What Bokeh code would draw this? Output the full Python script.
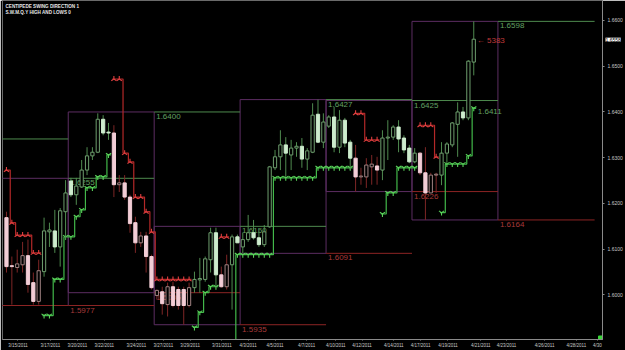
import math
from bokeh.plotting import figure
from bokeh.models import ColumnDataSource, FixedTicker, NumeralTickFormatter, Range1d
from bokeh.core.properties import value
from bokeh.embed import file_html
from bokeh.resources import INLINE

# ---------------- data ----------------
opens = [1.6169, 1.6064, 1.6060, 1.6066, 1.6086, 1.6027, 1.5986, 1.6051, 1.6138, 1.6140,
         1.6105, 1.6182, 1.6249, 1.6219, 1.6236, 1.6273, 1.6304, 1.6312, 1.6384, 1.6356,
         1.6354, 1.6241, 1.6245, 1.6214, 1.6158, 1.6114, 1.6129, 1.6084, 1.5999, 1.6007,
         1.5979, 1.6018, 1.6012, 1.6012, 1.5977, 1.6016, 1.6033, 1.6034, 1.6077, 1.6136,
         1.6044, 1.6018, 1.6066, 1.6127, 1.6105, 1.6121, 1.6136, 1.6125, 1.6110, 1.6149,
         1.6278, 1.6302, 1.6328, 1.6306, 1.6321, 1.6325, 1.6297, 1.6312, 1.6395, 1.6334,
         1.6369, 1.6389, 1.6323, 1.6382, 1.6334, 1.6299, 1.6258, 1.6258, 1.6280, 1.6282,
         1.6273, 1.6343, 1.6345, 1.6367, 1.6343, 1.6321, 1.6291, 1.6310, 1.6267, 1.6223,
         1.6262, 1.6262, 1.6310, 1.6328, 1.6373, 1.6400, 1.6387, 1.6509]
highs = [1.6182, 1.6084, 1.6099, 1.6116, 1.6121, 1.6049, 1.6077, 1.6169, 1.6158, 1.6186,
         1.6190, 1.6251, 1.6256, 1.6256, 1.6295, 1.6323, 1.6323, 1.6397, 1.6393, 1.6376,
         1.6371, 1.6262, 1.6262, 1.6219, 1.6171, 1.6138, 1.6138, 1.6088, 1.6012, 1.6018,
         1.6027, 1.6029, 1.6018, 1.6018, 1.6027, 1.6051, 1.6081, 1.6084, 1.6147, 1.6147,
         1.6062, 1.6088, 1.6132, 1.6132, 1.6136, 1.6175, 1.6164, 1.6142, 1.6153, 1.6282,
         1.6317, 1.6360, 1.6345, 1.6339, 1.6334, 1.6343, 1.6321, 1.6419, 1.6427, 1.6397,
         1.6393, 1.6411, 1.6404, 1.6387, 1.6339, 1.6328, 1.6278, 1.6299, 1.6306, 1.6302,
         1.6360, 1.6382, 1.6371, 1.6382, 1.6349, 1.6328, 1.6321, 1.6312, 1.6323, 1.6267,
         1.6267, 1.6334, 1.6334, 1.6378, 1.6421, 1.6411, 1.6513, 1.6598]
lows = [1.6049, 1.5979, 1.6049, 1.6049, 1.6005, 1.5979, 1.5979, 1.6040, 1.6105, 1.6092,
        1.6062, 1.6121, 1.6214, 1.6197, 1.6234, 1.6262, 1.6295, 1.6310, 1.6349, 1.6339,
        1.6214, 1.6225, 1.6208, 1.6136, 1.6092, 1.6105, 1.6049, 1.6012, 1.5990, 1.5957,
        1.5953, 1.5973, 1.5968, 1.5935, 1.5973, 1.6005, 1.6005, 1.6029, 1.6049, 1.6018,
        1.6016, 1.6012, 1.5968, 1.6114, 1.6091, 1.6116, 1.6121, 1.6105, 1.6105, 1.6147,
        1.6273, 1.6273, 1.6258, 1.6273, 1.6302, 1.6278, 1.6273, 1.6310, 1.6332, 1.6321,
        1.6365, 1.6312, 1.6310, 1.6323, 1.6273, 1.6226, 1.6241, 1.6234, 1.6241, 1.6241,
        1.6251, 1.6295, 1.6339, 1.6312, 1.6310, 1.6288, 1.6288, 1.6262, 1.6164, 1.6223,
        1.6223, 1.6240, 1.6288, 1.6323, 1.6302, 1.6382, 1.6382, 1.6480]
closes = [1.6062, 1.6062, 1.6068, 1.6086, 1.6023, 1.5986, 1.6053, 1.6140, 1.6142, 1.6105,
          1.6184, 1.6223, 1.6219, 1.6238, 1.6273, 1.6304, 1.6312, 1.6384, 1.6354, 1.6354,
          1.6241, 1.6245, 1.6214, 1.6156, 1.6114, 1.6129, 1.6084, 1.6016, 1.6010, 1.5981,
          1.6018, 1.5977, 1.5977, 1.5977, 1.6016, 1.6034, 1.6036, 1.6079, 1.6136, 1.6044,
          1.6018, 1.6066, 1.6127, 1.6114, 1.6121, 1.6136, 1.6125, 1.6110, 1.6138, 1.6280,
          1.6302, 1.6328, 1.6310, 1.6321, 1.6325, 1.6297, 1.6315, 1.6393, 1.6334, 1.6378,
          1.6389, 1.6323, 1.6382, 1.6332, 1.6299, 1.6258, 1.6260, 1.6284, 1.6286, 1.6273,
          1.6343, 1.6345, 1.6367, 1.6341, 1.6317, 1.6291, 1.6310, 1.6267, 1.6223, 1.6262,
          1.6264, 1.6310, 1.6330, 1.6376, 1.6400, 1.6387, 1.6511, 1.6559]
# swing direction of each bar: 1 = up (green), -1 = down (red)
swing_dir = [-1, -1, -1, -1, -1, -1, -1,
             1, 1, 1, 1, 1, 1, 1, 1, 1, 1, 1, 1, 1,
             -1, -1, -1, -1, -1, -1, -1, -1, -1, -1, -1, -1, -1, -1, -1,
             1, 1, 1, 1, 1,
             -1, -1,
             1, 1, 1, 1, 1, 1, 1, 1, 1, 1, 1, 1, 1, 1, 1, 1, 1, 1, 1, 1, 1, 1, 1,
             -1, -1, -1, -1, -1,
             1, 1, 1, 1, 1, 1, 1,
             -1, -1, -1, -1,
             1, 1, 1, 1, 1, 1, 1]

date_pos = [2.14, 8.18, 13.2, 18.2, 24.2, 29.2, 34.2, 40.1, 45.0, 50.0, 55.9,
            61.3, 66.2, 72.1, 77.1, 82.2, 88.3, 93.1, 100.2, 106.1, 110.0]
date_labels = ["3/15/2011", "3/17/2011", "3/20/2011", "3/22/2011", "3/24/2011",
               "3/27/2011", "3/29/2011", "3/31/2011", "4/3/2011", "4/5/2011",
               "4/7/2011", "4/10/2011", "4/12/2011", "4/14/2011", "4/17/2011",
               "4/19/2011", "4/21/2011", "4/23/2011", "4/26/2011", "4/28/2011", "4/30"]
price_ticks = [1.59, 1.60, 1.61, 1.62, 1.63, 1.64, 1.65, 1.66]

# weekly high / low boxes
box_start = [-1.0, 11.5, 27.5, 43.5, 59.5, 75.5]
box_end = [11.5, 27.5, 43.5, 59.5, 75.5, 91.5]
box_high = [1.6255, 1.6400, 1.6150, 1.6427, 1.6425, 1.6598]
box_low = [1.5977, 1.6005, 1.5935, 1.6091, 1.6226, 1.6164]

# previous week's high / low projected over each week
lvl_start = [-1.0, 11.5, 27.5, 43.5, 59.5, 75.5, 91.5]
lvl_end = [11.5, 27.5, 43.5, 59.5, 75.5, 91.5, 109.5]
prev_high = [1.6341, 1.6255, 1.6400, 1.6150, 1.6427, 1.6425, 1.6598]
prev_low = [1.5977, 1.5977, 1.6005, 1.5935, 1.6091, 1.6226, 1.6164]
prev_high_txt = ["1.6341", "1.6255", "1.6400", "1.6150", "1.6427", "1.6425", "1.6598"]
prev_low_txt = ["1.5977", "1.5977", "1.6005", "1.5935", "1.6091", "1.6226", "1.6164"]

# centipede swing direction step lines
red1_bars = [0, 1, 2, 3, 4, 5, 6]
red1_lv = [1.6273, 1.6158, 1.6131, 1.6131, 1.6131, 1.6092, 1.6092]
green1_bars = [7, 8, 9, 10, 11, 12, 13, 14, 15, 16, 17, 18, 19]
green1_lv = [1.5955, 1.5955, 1.6034, 1.6034, 1.6127, 1.6127, 1.6171, 1.6186, 1.6234, 1.6234,
             1.6258, 1.6258, 1.6306]
red2_bars = [20, 21, 22, 23, 24, 25, 26, 27, 28, 29, 30, 31, 32, 33, 34]
red2_lv = [1.6472, 1.6472, 1.6310, 1.6291, 1.6214, 1.6214, 1.6182, 1.6138, 1.6034, 1.6034,
           1.6034, 1.6034, 1.6034, 1.6034, 1.6034]
green2_bars = [35, 36, 37, 38, 39]
green2_lv = [1.5929, 1.5962, 1.6005, 1.6018, 1.6018]
red3_bars = [40, 41]
red3_lv = [1.6127, 1.6127]
green3_bars = [42, 43, 44, 45, 46, 47, 48, 49, 50, 51, 52, 53, 54, 55, 56, 57,
               58, 59, 60, 61, 62, 63, 64]
green3_lv = [1.5880, 1.6088, 1.6088, 1.6088, 1.6088, 1.6088, 1.6088, 1.6088,
             1.6256, 1.6256, 1.6256, 1.6256, 1.6256, 1.6256, 1.6256, 1.6256,
             1.6278, 1.6278, 1.6278, 1.6278, 1.6278, 1.6278, 1.6278]
red4_bars = [65, 66, 67, 68, 69]
red4_lv = [1.6397, 1.6397, 1.6339, 1.6339, 1.6339]
green4_bars = [70, 71, 72, 73, 74, 75, 76]
green4_lv = [1.6177, 1.6223, 1.6223, 1.6278, 1.6278, 1.6278, 1.6278]
red5_bars = [77, 78, 79, 80]
red5_lv = [1.6371, 1.6371, 1.6371, 1.6302]
green5_bars = [81, 82, 83, 84, 85, 86, 87]
green5_lv = [1.6180, 1.6286, 1.6286, 1.6286, 1.6286, 1.6304, 1.6408]

last_price = 1.6558
swing_target = 1.6411

# ---------------- figure ----------------
FONT = value("Liberation Sans")
p = figure(width=625, height=350, output_backend="svg", toolbar_location=None,
           x_range=Range1d(-0.74, 110.97), y_range=Range1d(1.59027, 1.66436),
           y_axis_location="right", background_fill_color="black",
           border_fill_color="black", min_border_left=2, min_border_right=22,
           min_border_top=0, min_border_bottom=10)
p.grid.visible = False
p.outline_line_color = "#6a6a6a"

ax = p.yaxis[0]
ax.ticker = FixedTicker(ticks=price_ticks)
ax.formatter = NumeralTickFormatter(format="0.0000")
ax.major_label_text_font_size = "5px"
ax.major_label_text_color = "#c8c8c8"
ax.major_label_text_font = "Liberation Sans"
ax.axis_line_color = "#8a8a8a"
ax.major_tick_line_color = "#8a8a8a"
ax.major_tick_out = 2
ax.major_tick_in = 0
ax.minor_tick_line_color = None
ax.major_label_standoff = 3

bx = p.xaxis[0]
bx.ticker = FixedTicker(ticks=date_pos)
bx.major_label_overrides = {pos: lab for pos, lab in zip(date_pos, date_labels)}
bx.major_label_text_font_size = "4.5px"
bx.major_label_text_color = "#c8c8c8"
bx.major_label_text_font = "Liberation Sans"
bx.axis_line_color = "#8a8a8a"
bx.major_tick_line_color = "#8a8a8a"
bx.major_tick_out = 1
bx.major_tick_in = 0
bx.minor_tick_line_color = None
bx.major_label_standoff = 2

# weekly boxes
p.quad(left=box_start, right=box_end, top=box_high, bottom=box_low,
       fill_color=None, line_color="#5c2d62", line_width=1)

# previous week's high / low lines
p.segment(x0=lvl_start, y0=prev_high, x1=lvl_end, y1=prev_high, line_color="#4e8a4e", line_width=1)
p.segment(x0=lvl_start, y0=prev_low, x1=lvl_end, y1=prev_low, line_color="#8c2424", line_width=1)
p.text(x=lvl_start[1:], y=prev_high[1:], text=prev_high_txt[1:], text_color="#62a062",
       text_font=FONT, text_font_size="8px", text_baseline="top", x_offset=2, y_offset=2)
p.text(x=lvl_start[1:], y=prev_low[1:], text=prev_low_txt[1:], text_color="#a83a3a",
       text_font=FONT, text_font_size="8px", text_baseline="top", x_offset=2, y_offset=2)


def step_xy(bars, lv):
    xs = [bars[0] - 0.3]
    ys = [lv[0]]
    for i in range(1, len(bars)):
        xv = bars[i] - 0.3
        xs += [xv, xv]
        ys += [lv[i - 1], lv[i]]
    xs.append(bars[-1] + 0.45)
    ys.append(lv[-1])
    return xs, ys


reds = [(red1_bars, red1_lv), (red2_bars, red2_lv), (red3_bars, red3_lv),
        (red4_bars, red4_lv), (red5_bars, red5_lv)]
greens = [(green1_bars, green1_lv), (green2_bars, green2_lv), (green3_bars, green3_lv),
          (green4_bars, green4_lv), (green5_bars, green5_lv)]

rx, ry = zip(*[step_xy(b, l) for b, l in reds])
gx, gy = zip(*[step_xy(b, l) for b, l in greens])
p.multi_line(xs=list(rx), ys=list(ry), line_color="#b42828", line_width=1.2)
p.multi_line(xs=list(gx), ys=list(gy), line_color="#42b84a", line_width=1.2)

rmx = [b for bars, _ in reds for b in bars]
rmy = [v for _, lv in reds for v in lv]
gmx = [b for bars, _ in greens for b in bars]
gmy = [v for _, lv in greens for v in lv]
p.scatter(x=rmx, y=rmy, marker="y", size=6, angle=math.pi, line_color="#e04040", line_width=1.1)
p.scatter(x=gmx, y=gmy, marker="y", size=6, line_color="#5ad25a", line_width=1.1)

# candles
n = len(opens)
idx = list(range(n))
tops, bots, fills, lines, wicks = [], [], [], [], []
for o, c, d in zip(opens, closes, swing_dir):
    t, b = max(o, c), min(o, c)
    if t - b < 0.00008:
        t = b + 0.00008
    tops.append(t)
    bots.append(b)
    bull = c >= o
    if d > 0:
        fills.append("#000000" if bull else "#cdeccd")
        lines.append("#6e9e6e" if bull else "#cdeccd")
        wicks.append("#4f8a4f")
    else:
        fills.append("#000000" if bull else "#f2cdd6")
        lines.append("#a08282" if bull else "#f2cdd6")
        wicks.append("#7e2626")

src = ColumnDataSource(dict(x=idx, h=highs, l=lows, t=tops, b=bots, f=fills, lc=lines, w=wicks))
p.segment(x0="x", y0="h", x1="x", y1="l", line_color="w", line_width=1, source=src)
p.vbar(x="x", width=0.6, top="t", bottom="b", fill_color="f", line_color="lc", line_width=1,
       source=src)

# annotations near the last bar
p.text(x=[green5_bars[-1]], y=[green5_lv[-1]], text=[f"{swing_target:.4f}"], text_color="#62a062",
       text_font=FONT, text_font_size="8px", text_baseline="middle", x_offset=4, y_offset=3)
p.text(x=[n - 1], y=[last_price], text=["\u2190  5383"], text_color="#c03a3a",
       text_font=FONT, text_font_size="8px", text_baseline="middle", x_offset=3, y_offset=1)

# price tag on the axis
p.text(x=[110.97], y=[last_price], text=[f"{last_price:.4f}"], text_color="#000000",
       text_font=FONT, text_font_size="5px", text_baseline="middle", x_offset=3,
       background_fill_color="#ffffff", level="overlay")

# indicator names
p.text(x=[-0.74, -0.74], y=[1.66436, 1.66436],
       text=["CENTIPEDE SWING DIRECTION 1", "S.W.M.Q.Y HIGH AND LOWS 0"],
       text_color="#e6e6e6", text_font=FONT, text_font_size="4.6px", text_font_style="bold",
       text_baseline="top", x_offset=3, y_offset=[3, 9])

p.scatter(x=[110.6], y=[1.5906], marker="square", size=4, fill_color="#39d639", line_color="#39d639")

open("out.html", "w").write(file_html(p, INLINE))
